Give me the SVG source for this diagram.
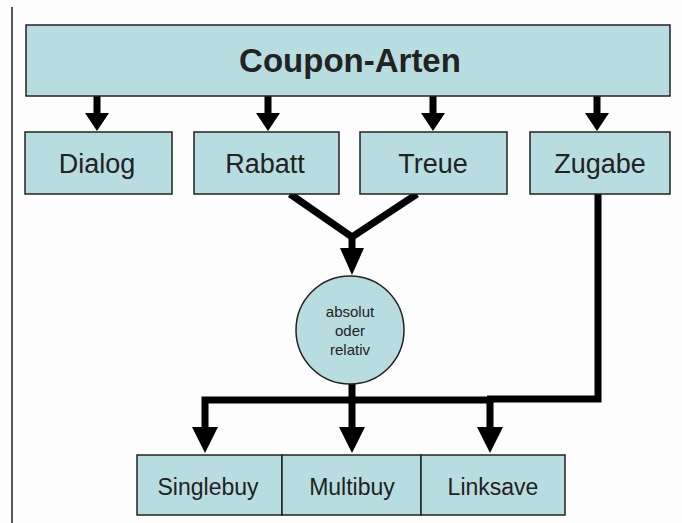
<svg xmlns="http://www.w3.org/2000/svg" width="682" height="523" viewBox="0 0 682 523">
<style>
.box{fill:#b8dde1;stroke:#222;stroke-width:1.5}
.t{font-family:"Liberation Sans",Arial,sans-serif;fill:#222;text-anchor:middle}
.ln{fill:none;stroke:#000;stroke-width:7}
.hd{fill:#000}
</style>
<rect x="0" y="0" width="682" height="523" fill="#fdfdfd"/>
<line x1="12" y1="7" x2="12" y2="523" stroke="#222" stroke-width="1.5"/>
<g id="connectors">
<line class="ln" x1="97" y1="96" x2="97" y2="114"/>
<polygon class="hd" points="85,113 109,113 97,131"/>
<line class="ln" x1="268" y1="96" x2="268" y2="114"/>
<polygon class="hd" points="256,113 280,113 268,131"/>
<line class="ln" x1="433" y1="96" x2="433" y2="114"/>
<polygon class="hd" points="421,113 445,113 433,131"/>
<line class="ln" x1="597" y1="96" x2="597" y2="114"/>
<polygon class="hd" points="585,113 609,113 597,131"/>
<polyline class="ln" points="290,194 352,237 417,194"/>
<line class="ln" x1="352" y1="236" x2="352" y2="250"/>
<polygon class="hd" points="340,248 364,248 352,275"/>
<polyline class="ln" points="598,193 598,399 487,399"/>
<line class="ln" x1="352" y1="384" x2="352" y2="400"/>
<polyline class="ln" points="205,428 205,400 490,400 490,428"/>
<line class="ln" x1="352" y1="400" x2="352" y2="428"/>
<polygon class="hd" points="192,427 218,427 205,453"/>
<polygon class="hd" points="339,427 365,427 352,453"/>
<polygon class="hd" points="477,427 503,427 490,453"/>
</g>
<g id="coupon-arten">
<rect class="box" x="26" y="25" width="644" height="71"/>
<text class="t" x="350" y="72" font-size="33" font-weight="bold" fill="#111">Coupon-Arten</text>
</g>
<g id="dialog">
<rect class="box" x="25" y="132" width="147" height="62"/>
<text class="t" x="97" y="173" font-size="27">Dialog</text>
</g>
<g id="rabatt">
<rect class="box" x="194" y="132" width="145" height="62"/>
<text class="t" x="265" y="173" font-size="27">Rabatt</text>
</g>
<g id="treue">
<rect class="box" x="360" y="132" width="147" height="62"/>
<text class="t" x="433" y="173" font-size="27">Treue</text>
</g>
<g id="zugabe">
<rect class="box" x="530" y="132" width="140" height="62"/>
<text class="t" x="600" y="173" font-size="27">Zugabe</text>
</g>
<g id="absolut-oder-relativ">
<circle class="box" cx="350" cy="330" r="54"/>
<text class="t" x="350" y="317" font-size="15" fill="#333">absolut</text>
<text class="t" x="350" y="336" font-size="15" fill="#333">oder</text>
<text class="t" x="350" y="355" font-size="15" fill="#333">relativ</text>
</g>
<g id="singlebuy">
<rect class="box" x="137" y="455" width="145" height="60"/>
<text class="t" x="208" y="495" font-size="23">Singlebuy</text>
</g>
<g id="multibuy">
<rect class="box" x="282" y="455" width="139" height="60"/>
<text class="t" x="352" y="495" font-size="23">Multibuy</text>
</g>
<g id="linksave">
<rect class="box" x="421" y="455" width="144" height="60"/>
<text class="t" x="493" y="495" font-size="23">Linksave</text>
</g>
</svg>
